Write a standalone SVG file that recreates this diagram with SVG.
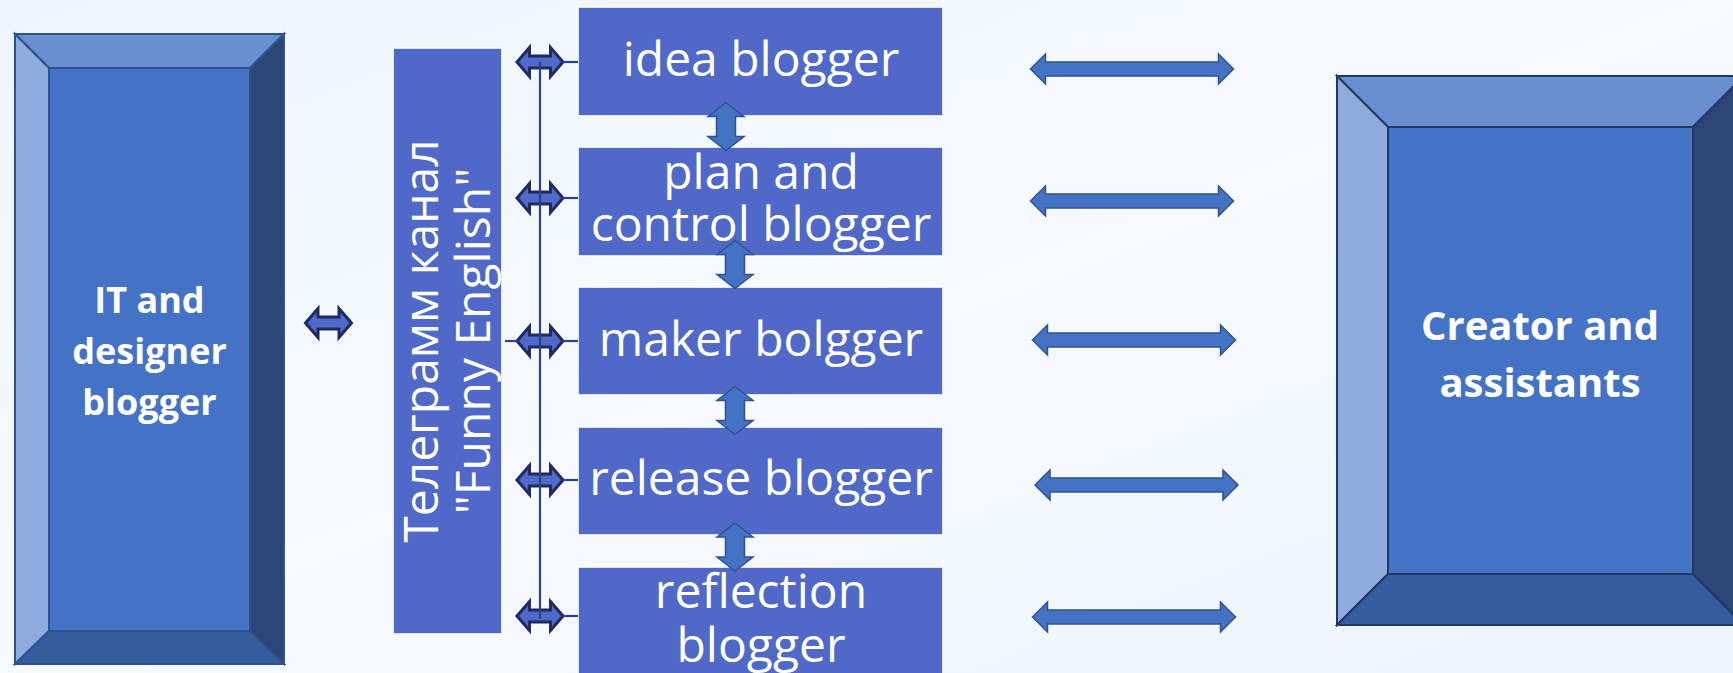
<svg xmlns="http://www.w3.org/2000/svg" width="1733" height="673" viewBox="0 0 1733 673">
<defs>
<linearGradient id="bg" x1="0" y1="0" x2="1" y2="1">
<stop offset="0" stop-color="#EEF5FC"/>
<stop offset="0.5" stop-color="#F7FAFE"/>
<stop offset="1" stop-color="#EDF4FC"/>
</linearGradient>
<path id="sarrow" d="M-23,0 L-10.5,-14.5 L-10.5,-6 L10.5,-6 L10.5,-14.5 L23,0 L10.5,14.5 L10.5,6 L-10.5,6 L-10.5,14.5 Z"/>
<path id="harrow" d="M-101.5,0 L-86.5,-15 L-86.5,-7 L86.5,-7 L86.5,-15 L101.5,0 L86.5,15 L86.5,7 L-86.5,7 L-86.5,15 Z"/>
<path id="varrow" d="M0,-24 L18,-10 L9.5,-10 L9.5,10 L18,10 L0,24 L-18,10 L-9.5,10 L-9.5,-10 L-18,-10 Z"/>
</defs>
<style>
.inner{fill:#4472C4;}
.topf{fill:#6A8FD0;}
.leftf{fill:#8FAADC;}
.botf{fill:#355C9C;}
.rightf{fill:#2A4576;}
.bev{stroke:#2F528F;stroke-width:2;stroke-linejoin:miter;}
.bev2{stroke:#203864;stroke-width:2;stroke-linejoin:miter;}
.blk{fill:#5069C9;stroke:#FFFFFF;stroke-width:2;stroke-opacity:0.8;}
.bt{font-family:"Open Sans","DejaVu Sans",sans-serif;font-size:48px;fill:#FFFFFF;text-anchor:middle;}
.bold{font-family:"Open Sans","Liberation Sans",sans-serif;font-weight:bold;fill:#FFFFFF;text-anchor:middle;}
.sa{fill:#4F6AC8;stroke:#1F2A60;stroke-width:3;stroke-linejoin:miter;}
.ha{fill:#4472C4;stroke:#2F528F;stroke-width:1.5;}
.ln{stroke:#2E3F8F;stroke-width:2.2;fill:none;}
</style>
<rect width="1733" height="673" fill="url(#bg)"/>

<g id="it-designer-blogger">
<polygon class="topf bev" points="15,34 284,34 250,68 49,68"/>
<polygon class="leftf bev" points="15,34 49,68 49,631 15,664"/>
<polygon class="botf bev" points="15,664 49,631 250,631 284,664"/>
<polygon class="rightf bev" points="284,34 284,664 250,631 250,68"/>
<rect class="inner bev" x="49" y="68" width="201" height="563"/>
<text class="bold" font-size="36" x="149.5" y="313">IT and</text>
<text class="bold" font-size="36" x="149.5" y="364">designer</text>
<text class="bold" font-size="36" x="149.5" y="415">blogger</text>
</g>

<g id="telegram-channel">
<rect class="blk" x="393" y="48" width="109" height="586"/>
<g transform="translate(0,341) rotate(-90)">
<text class="bt" x="0" y="438">Телеграмм канал</text>
<text class="bt" x="0" y="490">"Funny English"</text>
</g>
</g>

<g id="idea-blogger">
<rect class="blk" x="578" y="7" width="365" height="109"/>
<text class="bt" x="761" y="76">idea blogger</text>
</g>
<g id="plan-control-blogger">
<rect class="blk" x="578" y="147" width="365" height="109"/>
<text class="bt" x="761" y="189">plan and</text>
<text class="bt" x="761" y="241">control blogger</text>
</g>
<g id="maker-blogger">
<rect class="blk" x="578" y="287" width="365" height="108"/>
<text class="bt" x="761" y="356">maker bolgger</text>
</g>
<g id="release-blogger">
<rect class="blk" x="578" y="427" width="365" height="108"/>
<text class="bt" x="761" y="495">release blogger</text>
</g>
<g id="reflection-blogger">
<rect class="blk" x="578" y="567" width="365" height="112"/>
<text class="bt" x="761" y="608">reflection</text>
<text class="bt" x="761" y="662">blogger</text>
</g>

<g id="creator-assistants">
<polygon class="topf bev2" points="1337,76 1744,76 1693,127 1388,127"/>
<polygon class="leftf bev2" points="1337,76 1388,127 1388,574 1337,625"/>
<polygon class="botf bev2" points="1337,625 1388,574 1693,574 1744,625"/>
<polygon class="rightf bev2" points="1744,76 1744,625 1693,574 1693,127"/>
<rect class="inner bev2" x="1388" y="127" width="305" height="447"/>
<text class="bold" font-size="40" x="1540" y="340">Creator and</text>
<text class="bold" font-size="40" x="1540" y="397">assistants</text>
</g>

<g id="connectors">
<use href="#sarrow" class="sa" x="328.5" y="323"/>
<use href="#sarrow" class="sa" x="540" y="62"/>
<use href="#sarrow" class="sa" x="540" y="198"/>
<use href="#sarrow" class="sa" x="540" y="341"/>
<use href="#sarrow" class="sa" x="540" y="480"/>
<use href="#sarrow" class="sa" x="540" y="616"/>
<line class="ln" x1="540" y1="62" x2="540" y2="619"/>
<line class="ln" x1="563" y1="62" x2="578" y2="62"/>
<line class="ln" x1="563" y1="198" x2="578" y2="198"/>
<line class="ln" x1="505" y1="341" x2="517" y2="341"/>
<line class="ln" x1="563" y1="341" x2="578" y2="341"/>
<line class="ln" x1="563" y1="480" x2="578" y2="480"/>
<line class="ln" x1="563" y1="616" x2="578" y2="616"/>
<use href="#varrow" class="ha" x="726" y="126.5"/>
<use href="#varrow" class="ha" x="735" y="264.5"/>
<use href="#varrow" class="ha" x="735" y="410.5"/>
<use href="#varrow" class="ha" x="735" y="547"/>
<use href="#harrow" class="ha" x="1132" y="69"/>
<use href="#harrow" class="ha" x="1132" y="201"/>
<use href="#harrow" class="ha" x="1134" y="340"/>
<use href="#harrow" class="ha" x="1136.5" y="485"/>
<use href="#harrow" class="ha" x="1134" y="617"/>
</g>
</svg>
